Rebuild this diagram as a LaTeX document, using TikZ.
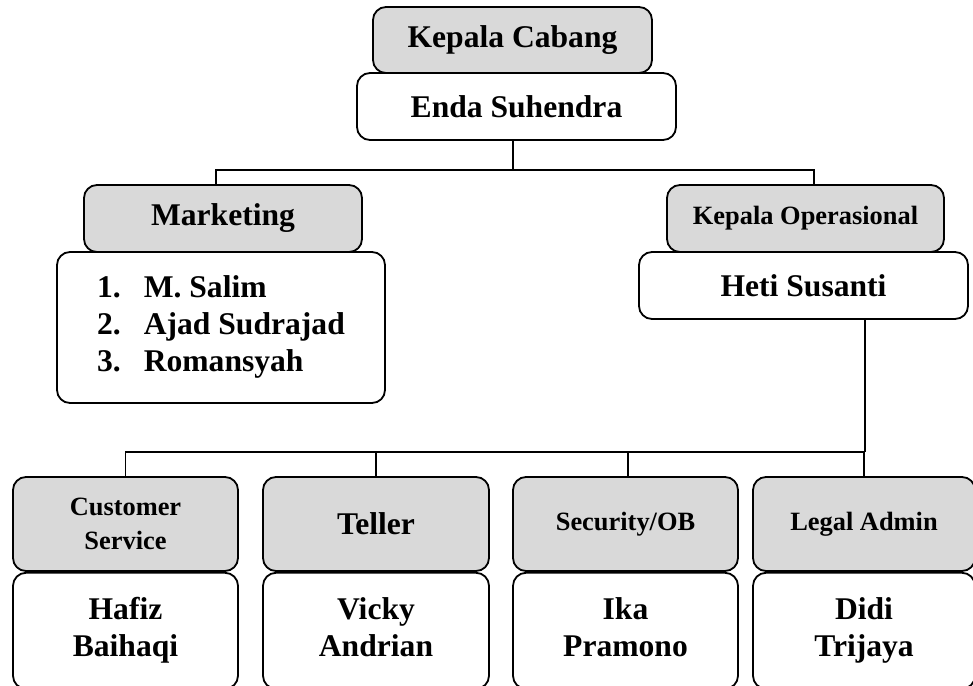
\documentclass[tikz,border=0pt]{standalone}
\usepackage{fontspec}
\setmainfont{Liberation Serif}
\usetikzlibrary{positioning}

\definecolor{abu}{HTML}{D9D9D9}

\tikzset{
  kotak/.style={draw=black, line width=1.8pt, rounded corners=13pt, align=center,
    inner sep=0pt, font=\bfseries\fontsize{31.6}{37}\selectfont},
  jabatan/.style={kotak, fill=abu},
  kecil/.style={font=\bfseries\fontsize{26.4}{34}\selectfont},
  nama/.style={kotak, minimum height=116pt},
  garis/.style={black, line width=1.8pt},
}

\begin{document}
\begin{tikzpicture}[x=1pt, y=-1pt]
      \useasboundingbox (0,0) rectangle (973,685);
      \clip (0,0) rectangle (973,685);

      % Pimpinan cabang
      \node[jabatan, minimum width=279pt, minimum height=66pt] (kacab) at (512.5,40) {Kepala Cabang};
      \node[kotak, minimum width=319pt, minimum height=67pt] (enda) at (516.5,106.5) {Enda Suhendra};

      % Marketing
      \node[jabatan, minimum width=278pt, minimum height=67pt] (mkt) at (223,218.5) {Marketing};
      \node[kotak, minimum width=328pt, minimum height=151pt] (mktnama) at (221,327.5)
        {\begin{tabular}{@{}l@{\hspace{23pt}}l@{}}
          1. & M. Salim\\
          2. & Ajad Sudrajad\\
          3. & Romansyah
        \end{tabular}};

      % Operasional
      \node[jabatan, kecil, minimum width=277pt, minimum height=67pt] (kops) at (805.5,218.5) {Kepala Operasional};
      \node[kotak, minimum width=329pt, minimum height=67pt] (heti) at (803.5,285.5) {Heti Susanti};

      % Bagian di bawah operasional
      \node[jabatan, kecil, minimum width=225pt, minimum height=94pt] (cs) at (125.5,524) {Customer\\Service};
      \node[jabatan, minimum width=226pt, minimum height=94pt] (teller) at (376,524) {Teller};
      \node[jabatan, kecil, minimum width=225pt, minimum height=94pt] (sec) at (625.5,524) {Security/OB};
      \node[jabatan, kecil, minimum width=222pt, minimum height=94pt] (legal) at (864,524) {Legal Admin};

      \node[nama, minimum width=225pt, below=0pt of cs] (hafiz) {\strut Hafiz\\\strut Baihaqi};
      \node[nama, minimum width=226pt, below=0pt of teller] (vicky) {\strut Vicky\\\strut Andrian};
      \node[nama, minimum width=225pt, below=0pt of sec] (ika) {\strut Ika\\\strut Pramono};
      \node[nama, minimum width=222pt, below=0pt of legal] (didi) {\strut Didi\\\strut Trijaya};

      % Garis penghubung atas
      \coordinate (busatas) at (513,170);
      \draw[garis] (enda.south -| busatas) -- (busatas);
      \draw[garis] ([xshift=-7pt]mkt.north) |- (busatas) -| ([xshift=8.5pt]kops.north);

      % Garis penghubung bawah
      \coordinate (busbawah) at (865,452);
      \draw[garis] (heti.south -| busbawah) -- (busbawah);
      \draw[garis] (cs.north) |- (busbawah);
      \draw[garis] (teller.north) -- (teller.north |- busbawah);
      \draw[garis] ([xshift=2.5pt]sec.north) -- ([xshift=2.5pt]sec.north |- busbawah);
      \draw[garis] (legal.north) -- (legal.north |- busbawah);

\end{tikzpicture}
\end{document}
